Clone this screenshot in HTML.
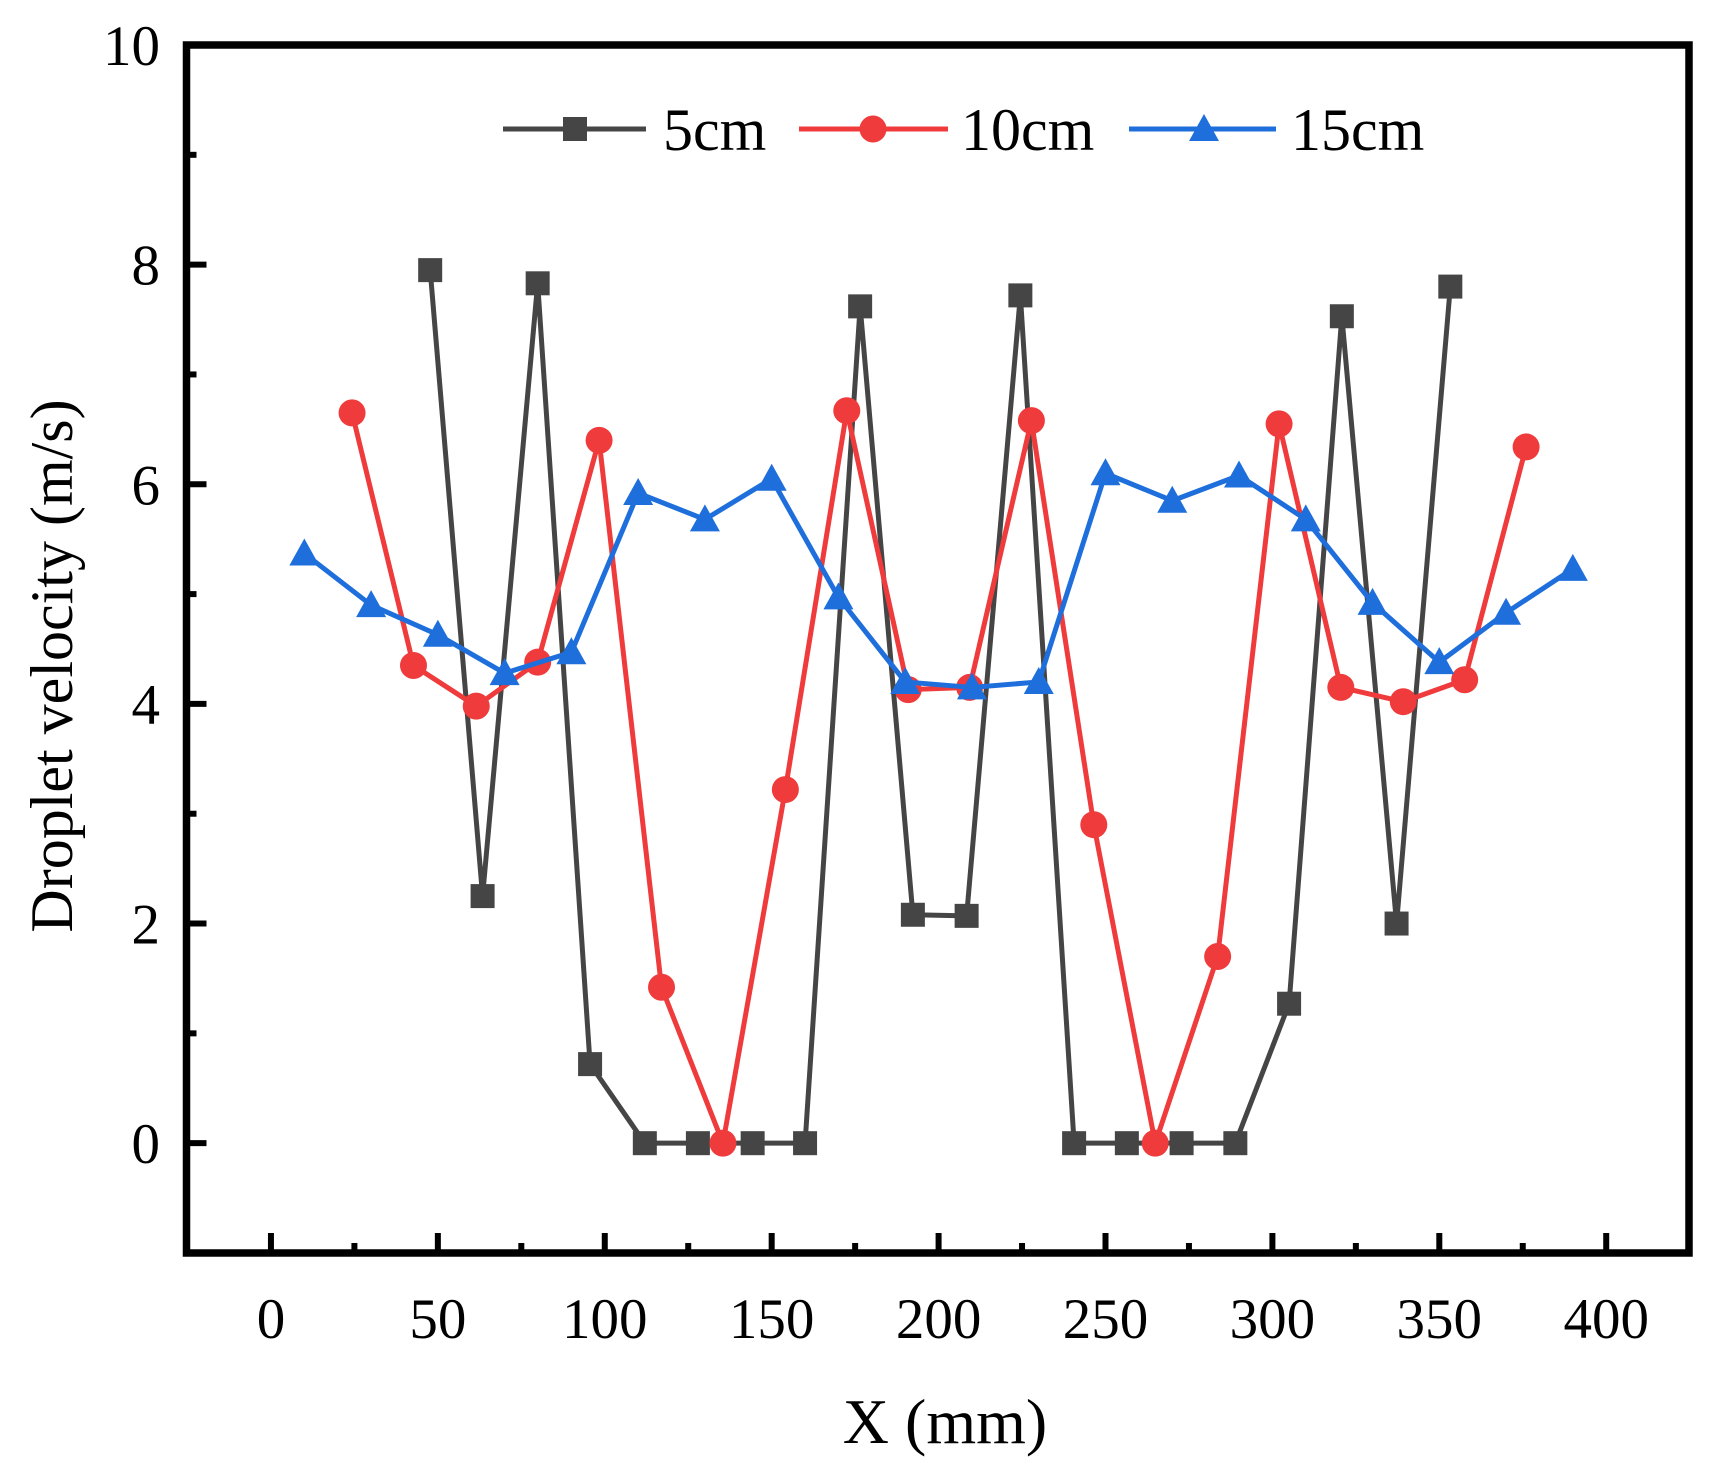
<!DOCTYPE html>
<html><head><meta charset="utf-8"><style>
html,body{margin:0;padding:0;background:#fff;}
svg{display:block;font-family:"Liberation Serif",serif;}
</style></head><body>
<svg id="chart" width="1724" height="1465" viewBox="0 0 1724 1465" xmlns="http://www.w3.org/2000/svg">
<rect width="1724" height="1465" fill="#fff"/>
<g id="marks"></g>
<g id="axes"></g>
<text x="945" y="1443" font-size="64" text-anchor="middle">X (mm)</text>
<text transform="translate(72,666) rotate(-90)" font-size="60" text-anchor="middle">Droplet velocity (m/s)</text>
<g id="legend"></g>
</svg>
<script>
const x5 = [47.7,63.4,79.9,95.6,112,127.9,144.3,160,176.5,192.3,208.4,224.5,240.6,256.4,272.8,288.9,305,320.8,337.2,353.3];
const y5 = [7.95,2.25,7.83,0.72,0,0,0,0,7.62,2.08,2.07,7.72,0,0,0,0,1.27,7.53,2.0,7.8];
const x10 = [24.3,42.7,61.5,79.9,98.3,117,135.4,154.1,172.5,190.9,209.3,227.8,246.5,264.9,283.6,302,320.5,339.2,357.6,376];
const y10 = [6.65,4.35,3.98,4.38,6.4,1.42,0,3.22,6.67,4.13,4.15,6.58,2.9,0,1.7,6.55,4.15,4.02,4.22,6.34];
const x15 = [10,30,50,70,90,110,130,150,170,190,210,230,250,270,290,310,330,350,370,390];
const y15 = [5.37,4.9,4.63,4.28,4.47,5.92,5.68,6.05,4.97,4.2,4.15,4.2,6.1,5.85,6.08,5.68,4.92,4.38,4.83,5.23];
const xTicks = [0,50,100,150,200,250,300,350,400];
const yTicks = [0,2,4,6,8,10];
const seriesNames = ["5cm","10cm","15cm"];

const L=186.5,R=1689,T=45,B=1253;
const xMin=-25.3,xMax=424.8,yMin=-1,yMax=10;
const sx=v=>L+(v-xMin)/(xMax-xMin)*(R-L);
const sy=v=>B-(v-yMin)/(yMax-yMin)*(B-T);
const NS="http://www.w3.org/2000/svg";
function mk(tag,attrs,parent){const e=document.createElementNS(NS,tag);for(const k in attrs)e.setAttribute(k,attrs[k]);parent.appendChild(e);return e;}
const marks=document.getElementById('marks'),axes=document.getElementById('axes'),legend=document.getElementById('legend');
const colors=["#454545","#ef3b3b","#1e6fdc"];
function marker(kind,cx,cy,col,parent){
  let e;
  if(kind===0) e=mk('rect',{x:cx-12,y:cy-12,width:24,height:24,fill:col},parent);
  else if(kind===1) e=mk('circle',{cx:cx,cy:cy,r:13.5,fill:col},parent);
  else e=mk('polygon',{points:`${cx},${cy-15} ${cx-15},${cy+12} ${cx+15},${cy+12}`,fill:col},parent);
  return e;
}
const xs=[x5,x10,x15],ys=[y5,y10,y15];
for(let s=0;s<3;s++){
  const g=mk('g',{},marks);
  
  
  const pts=xs[s].map((x,i)=>sx(x)+','+sy(ys[s][i])).join(' ');
  const pl=mk('polyline',{points:pts,fill:'none',stroke:colors[s],'stroke-width':5,'stroke-linejoin':'round'},g);
  
  
  xs[s].forEach((x,i)=>{
    const m=marker(s,sx(x),sy(ys[s][i]),colors[s],g);
    
    
  });
}
const box=mk('rect',{x:L,y:T,width:R-L,height:B-T,fill:'none',stroke:'#000','stroke-width':7.5},axes);


for(let v=0;v<=400;v+=25){
  const major=v%50===0;
  const t=mk('line',{x1:sx(v),x2:sx(v),y1:B,y2:B-(major?20:10),stroke:'#000','stroke-width':6},axes);
  
  
}
xTicks.forEach(v=>{
  const t=mk('text',{x:sx(v),y:1338,'font-size':57,'text-anchor':'middle'},axes);
  t.textContent=v;
  
  
});
for(let v=-1;v<=10;v+=1){
  const major=v%2===0;
  const t=mk('line',{x1:L,x2:L+(major?20:10),y1:sy(v),y2:sy(v),stroke:'#000','stroke-width':6},axes);
  
  
}
yTicks.forEach(v=>{
  const t=mk('text',{x:160,y:sy(v)+20,'font-size':57,'text-anchor':'end'},axes);
  t.textContent=v;
  
  
});
const lx=[[503,646,575,663],[799,948,873,961],[1129,1276,1204,1291]];
const ly=129;
for(let s=0;s<3;s++){
  const g=mk('g',{},legend);
  
  
  mk('line',{x1:lx[s][0],x2:lx[s][1],y1:ly,y2:ly,stroke:colors[s],'stroke-width':5},g);
  marker(s,lx[s][2],ly,colors[s],g);
  const t=mk('text',{x:lx[s][3],y:ly+21,'font-size':60},g);
  t.textContent=seriesNames[s];
}
</script>
</body></html>
